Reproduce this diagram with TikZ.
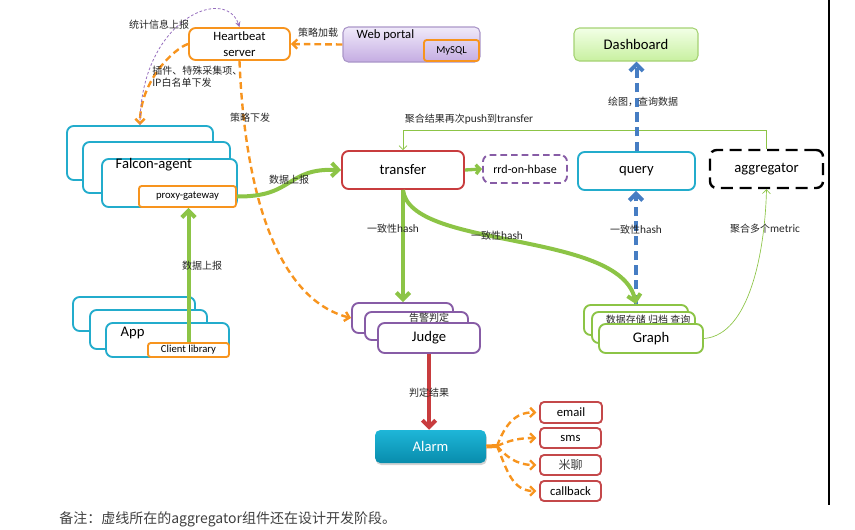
\documentclass[tikz,border=0pt]{standalone}
\usepackage{fontspec}
\setmainfont{Carlito}
\newfontfamily\cjk{Noto Sans CJK SC}
\usepackage{tikz}
\usetikzlibrary{arrows.meta,shadows}
\usepackage{xcolor}
\definecolor{hbo}{RGB}{247,148,30}
\definecolor{acyan}{RGB}{35,172,204}
\definecolor{tred}{RGB}{200,60,62}
\definecolor{jpurple}{RGB}{135,92,166}
\definecolor{ggreen}{RGB}{140,196,70}
\definecolor{qblue}{RGB}{70,125,195}
\definecolor{cred}{RGB}{196,72,74}
\definecolor{statp}{RGB}{150,110,190}
\definecolor{portaltop}{RGB}{240,234,250}
\definecolor{portalbot}{RGB}{196,172,226}
\definecolor{portalb}{RGB}{170,150,200}
\definecolor{dashtop}{RGB}{242,255,230}
\definecolor{dashbot}{RGB}{200,240,160}
\definecolor{dashb}{RGB}{165,210,115}
\definecolor{alarmtop}{RGB}{30,182,216}
\definecolor{alarmbot}{RGB}{8,140,172}
\newcommand{\lat}[1]{{\rmfamily\fontsize{8.5}{9}\selectfont #1}}

\begin{document}
\begin{tikzpicture}[x=0.75pt,y=-0.75pt,
  wh/.style 2 args={minimum width=#1*0.75pt,minimum height=#2*0.75pt},
  box/.style={draw,fill=white,rounded corners=5pt,line width=1.4pt,inner sep=0pt},
  big/.style={font=\fontsize{11}{13}\selectfont},
  small/.style={font=\fontsize{8}{9}\selectfont},
  lbl/.style={font=\cjk\fontsize{7.5}{9}\selectfont,text=black!85,inner sep=0pt},
  garr/.style={ggreen,line width=3pt,-{Straight Barb[length=5pt,width=10pt]}},
  oarr/.style={hbo,line width=1.8pt,dash pattern=on 5pt off 3pt,-{Straight Barb[length=3.5pt,width=7pt]}},
  barr/.style={qblue,line width=3pt,dash pattern=on 7pt off 4pt,-{Straight Barb[length=5pt,width=10pt]}},
  rarr/.style={tred,line width=3pt,-{Straight Barb[length=5pt,width=10pt]}},
  thinarr/.style={ggreen,line width=0.5pt,-{Straight Barb[length=3pt,width=6pt]}}]
  \useasboundingbox (0,0) rectangle (855,529);

  % heartbeat, portal, dashboard
  \node[box,draw=hbo,wh={101}{32},align=center,font=\fontsize{9.5}{12}\selectfont] (hb) at (239.5,44) {Heartbeat\\server};
  \node[draw=portalb,rounded corners=4pt,line width=0.8pt,top color=portaltop,bottom color=portalbot,wh={137}{35}] (portal) at (411.5,44.5) {};
  \node[anchor=west,font=\fontsize{9.5}{11}\selectfont] (portaltxt) at (352,35) {Web portal};
  \node[box,fill=none,draw=hbo,rounded corners=2pt,wh={55}{21},small] (mysql) at (451.5,50.5) {MySQL};
  \node[draw=dashb,rounded corners=4pt,line width=0.8pt,top color=dashtop,bottom color=dashbot,wh={124}{33},big] (dash) at (636,44.5) {Dashboard};

  % Falcon-agent
  \node[box,draw=acyan,wh={146}{54}] (agentB) at (140,153) {};
  \node[box,draw=acyan,wh={147}{51}] (agentM) at (156.5,167.5) {};
  \node[box,draw=acyan,wh={135}{48}] (agent) at (169.5,183) {};
  \node[anchor=west,big] (agenttxt) at (111,165) {Falcon-agent};
  \node[box,draw=hbo,rounded corners=2pt,wh={97}{21},small] (proxy) at (187.5,196.5) {proxy-gateway};

  % App
  \node[box,draw=acyan,wh={122}{34}] (appB) at (134,314) {};
  \node[box,draw=acyan,wh={117}{39}] (appM) at (148.5,329.5) {};
  \node[box,draw=acyan,wh={123}{34}] (app) at (167.5,340) {};
  \node[anchor=west,big] (apptxt) at (116,333) {App};
  \node[box,draw=hbo,rounded corners=2pt,wh={81}{14},small] (client) at (188.5,350) {Client library};

  % middle row
  \node[box,draw=tred,wh={122}{38},big] (transfer) at (403,170) {transfer};
  \node[box,draw=jpurple,dash pattern=on 5pt off 3pt,wh={84}{28},font=\fontsize{9}{11}\selectfont] (rrd) at (525,169) {rrd-on-hbase};
  \node[box,draw=acyan,wh={117}{38},big] (query) at (636.5,171) {query};
  \node[box,draw=black,line width=1.8pt,dash pattern=on 9pt off 5pt,wh={113}{38},big] (agg) at (766.5,169) {aggregator};

  % Judge
  \node[box,draw=jpurple,wh={101}{30}] (judgeB) at (402.5,318) {};
  \node[box,draw=jpurple,wh={103}{28}] (judgeM) at (416.5,326) {};
  \node[lbl] (judgetxt) at (429,318) {告警判定};
  \node[box,draw=jpurple,wh={102}{30},big] (judge) at (429,338) {Judge};

  % Graph
  \node[box,draw=ggreen,wh={104}{30}] (graphB) at (636,320) {};
  \node[box,draw=ggreen,wh={103}{31}] (graphM) at (643.5,327.5) {};
  \node[lbl] (graphtxt) at (648,320) {数据存储 归档 查询};
  \node[box,draw=ggreen,wh={104}{29},big] (graph) at (651,338.5) {Graph};

  % Alarm
  \node[rounded corners=4pt,top color=alarmtop,bottom color=alarmbot,text=white,
    drop shadow={opacity=0.35,shadow xshift=0.6pt,shadow yshift=-1.5pt},wh={111}{33},big] (alarm) at (430.5,446.5) {Alarm};
  \node[box,draw=cred,rounded corners=3pt,wh={62}{21},font=\fontsize{9.5}{11}\selectfont] (email) at (571,412.5) {email};
  \node[box,draw=cred,rounded corners=3pt,wh={61}{20},font=\fontsize{9.5}{11}\selectfont] (sms) at (570.5,438) {sms};
  \node[box,draw=cred,rounded corners=3pt,wh={61}{20},font=\cjk\fontsize{9}{11}\selectfont,text=black!75] (miliao) at (570.5,465) {米聊};
  \node[box,draw=cred,rounded corners=3pt,wh={61}{20},font=\fontsize{9.5}{11}\selectfont] (callback) at (570.5,491) {callback};
  \coordinate (fan) at (497,446);

  % connectors
  \draw[oarr] (portal.west) -- (hb.east);
  \draw[oarr] (hb.west) .. controls (175,48) and (140,80) .. (agentB.north);
  \draw[statp,line width=0.6pt,dash pattern=on 2pt off 1.5pt,-{Stealth[length=4pt,width=4pt]}] (agentB.north) .. controls (140,20) and (225,-15) .. (hb.north);
  \draw[oarr] (hb.south) .. controls (245,200) and (280,300) .. (judgeB.west);
  \draw[garr] (proxy.east) .. controls (295,197) and (285,168) .. (transfer.west);
  \draw[garr] (client.north) -- (client.north |- proxy.south);
  \draw[ggreen,line width=2.5pt,-{Straight Barb[length=3pt,width=7pt]}] (transfer.east) -- (rrd.west);
  \draw[thinarr] (agg.north) -- ++(0,-18) -| (transfer.north);
  \draw[barr] (query.north) -- (query.north |- dash.south);
  \draw[barr] (graphB.north) -- (graphB.north |- query.south);
  \draw[garr] (transfer.south) -- (transfer.south |- judgeB.north);
  \draw[garr] (transfer.south) .. controls (410,250) and (620,230) .. (graphB.north);
  \draw[thinarr] (graph.east) .. controls (750,335) and (765,250) .. (agg.south);
  \draw[rarr] (judge.south) -- (judge.south |- alarm.north);
  \draw[hbo,line width=3pt] (alarm.east) -- (fan);
  \draw[oarr,shorten >=2pt] (fan) .. controls (505,425) and (515,412) .. (email.west);
  \draw[oarr,shorten >=2pt] (fan) .. controls (510,440) and (520,438) .. (sms.west);
  \draw[oarr,shorten >=2pt] (fan) .. controls (505,455) and (515,465) .. (miliao.west);
  \draw[oarr,shorten >=2pt] (fan) .. controls (507,470) and (512,491) .. (callback.west);

  % labels
  \node[lbl] (l1) at (318,33) {策略加载};
  \node[lbl] (l2) at (159,25) {统计信息上报};
  \node[lbl,anchor=north west,align=left,font=\cjk\fontsize{7.5}{8.5}\selectfont] (l3) at (152,66) {插件、特殊采集项、\\IP白名单下发};
  \node[lbl] (l4) at (250,118) {策略下发};
  \node[lbl] (l5) at (289,180) {数据上报};
  \node[lbl] (l6) at (202,266) {数据上报};
  \node[lbl] (l7) at (469,119) {聚合结果再次\lat{push}到\lat{transfer}};
  \node[lbl] (l8) at (643,102) {绘图，查询数据};
  \node[lbl] (l9) at (393,229) {一致性\lat{hash}};
  \node[lbl] (l10) at (497,236) {一致性\lat{hash}};
  \node[lbl] (l11) at (636,230) {一致性\lat{hash}};
  \node[lbl] (l12) at (765,229) {聚合多个\lat{metric}};
  \node[lbl] (l13) at (429,393) {判定结果};

  \draw[black,line width=0.8pt] (829,0) -- (829,505);
  \node[anchor=west,font=\cjk\fontsize{10.5}{12}\selectfont,text=black!75,inner sep=0pt] (note) at (59,519) {备注：虚线所在的aggregator组件还在设计开发阶段。};
\end{tikzpicture}
\end{document}
